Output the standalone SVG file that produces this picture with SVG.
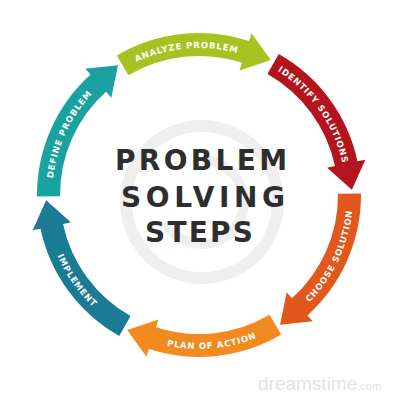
<svg xmlns="http://www.w3.org/2000/svg" xmlns:xlink="http://www.w3.org/1999/xlink" width="400" height="400" viewBox="0 0 400 400">
<style>
.lbl{font-family:"DejaVu Sans","Liberation Sans",sans-serif;font-weight:bold;font-size:8.5px;fill:#fff;letter-spacing:0.8px}
.title{font-family:"DejaVu Sans","Liberation Sans",sans-serif;font-weight:bold;font-size:28px;fill:#2e2e2e}
.wm{fill:none;stroke:#efefef}
</style>
<defs>
<path id="arrow" d="M -82.22 -139.58 A 162 162 0 0 1 50.06 -154.08 L 52.53 -161.69 L 71.83 -135.08 L 40.48 -124.59 L 42.95 -132.20 A 139 139 0 0 0 -70.54 -119.76 Z"/>
<path id="cw" d="M -94.49 -112.60 A 147 147 0 0 1 73.5 -127.31"/>
<path id="ccw" d="M 77 -133.37 A 154 154 0 0 0 -98.99 -117.96"/>
</defs>
<rect width="400" height="400" fill="#fff"/>
<g id="watermark">
<circle class="wm" cx="202" cy="202" r="76" stroke-width="12"/>
<path class="wm" d="M 202 160 A 42 42 0 1 1 165 222" stroke-width="10"/>
<text x="258" y="390" font-family="Liberation Sans,Arial,sans-serif" font-size="19" fill="#e4e4e4">dreamstime<tspan font-size="11">.com</tspan></text>
</g>
<g id="connectors">
<g id="analyze" transform="translate(199,195) rotate(0)">
<use href="#arrow" fill="#a7c322"/>
<text class="lbl"><textPath href="#cw" startOffset="50%" text-anchor="middle">ANALYZE PROBLEM</textPath></text>
</g>
<g id="identify" transform="translate(199,195) rotate(60)">
<use href="#arrow" fill="#b3141d"/>
<text class="lbl"><textPath href="#cw" startOffset="50%" text-anchor="middle">IDENTIFY SOLUTIONS</textPath></text>
</g>
<g id="choose" transform="translate(199,195) rotate(120)">
<use href="#arrow" fill="#e2571b"/>
<text class="lbl"><textPath href="#ccw" startOffset="50%" text-anchor="middle">CHOOSE SOLUTION</textPath></text>
</g>
<g id="plan" transform="translate(199,195) rotate(180)">
<use href="#arrow" fill="#f28a20"/>
<text class="lbl"><textPath href="#ccw" startOffset="50%" text-anchor="middle">PLAN OF ACTION</textPath></text>
</g>
<g id="implement" transform="translate(199,195) rotate(240)">
<use href="#arrow" fill="#1b7b94"/>
<text class="lbl"><textPath href="#ccw" startOffset="50%" text-anchor="middle">IMPLEMENT</textPath></text>
</g>
<g id="define" transform="translate(199,195) rotate(300)">
<use href="#arrow" fill="#19a29f"/>
<text class="lbl"><textPath href="#cw" startOffset="50%" text-anchor="middle">DEFINE PROBLEM</textPath></text>
</g>
</g>
<g id="title">
<text class="title" x="201" y="170" text-anchor="middle" textLength="172" lengthAdjust="spacing">PROBLEM</text>
<text class="title" x="203" y="207" text-anchor="middle" textLength="164" lengthAdjust="spacing">SOLVING</text>
<text class="title" x="199" y="242" text-anchor="middle" textLength="108" lengthAdjust="spacing">STEPS</text>
</g>
</svg>
